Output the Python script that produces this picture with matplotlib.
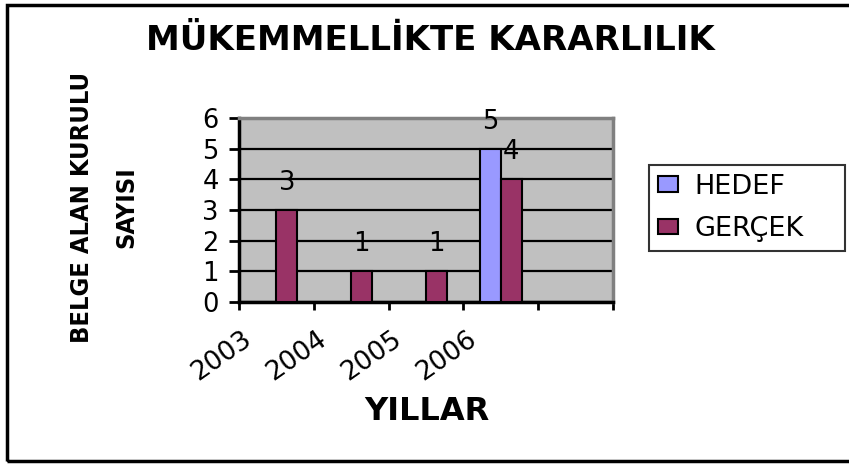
import matplotlib
matplotlib.use("Agg")
import matplotlib.pyplot as plt
import matplotlib.transforms as mtransforms
from matplotlib.patches import Rectangle
import numpy as np

# ---- data ----
categories = ["2003", "2004", "2005", "2006", ""]
hedef = [None, None, None, 5, None]
gercek = [3, 1, 1, 4, None]
series_names = ["HEDEF", "GERÇEK"]
title = "MÜKEMMELLİKTE KARARLILIK"
xlabel = "YILLAR"
ylabel = "BELGE ALAN KURULU\nSAYISI"
yticks = [0, 1, 2, 3, 4, 5, 6]

# ---- style ----
c_hedef = "#9999FF"
c_gercek = "#993366"
plt.rcParams["font.family"] = ["DejaVu Sans"]

W, H = 849, 466
fig = plt.figure(figsize=(W / 100, H / 100), dpi=100)
ax = fig.add_axes([239 / W, 1 - 302 / H, 374 / W, 184 / H])
ax.set_facecolor("#C0C0C0")

x = np.arange(len(categories))
bw = 0.28


def vals(v):
    return [np.nan if a is None else a for a in v]


hv = vals(hedef)
gv = vals(gercek)
b1 = ax.bar(x - bw / 2, hv, bw, color=c_hedef, edgecolor="black", linewidth=1.5,
            label=series_names[0], zorder=3)
b2 = ax.bar(x + bw / 2, gv, bw, color=c_gercek, edgecolor="black", linewidth=1.5,
            label=series_names[1], zorder=3)

for xs, vs in ((x - bw / 2, hv), (x + bw / 2, gv)):
    for xi, vi in zip(xs, vs):
        if not np.isnan(vi):
            ax.annotate(f"{int(vi)}", (xi, vi), xytext=(0, 19.5), textcoords="offset points",
                        ha="center", va="center", fontsize=18.5, color="black", zorder=5)

ax.set_xlim(-0.5, len(categories) - 0.5)
ax.set_ylim(0, 6)
ax.set_yticks(yticks)
ax.set_yticklabels([str(t) for t in yticks], fontsize=18.5)
ax.tick_params(axis="y", direction="out", length=7.5, width=2, pad=7)

ax.yaxis.grid(True, color="black", linewidth=1.6)
ax.set_axisbelow(True)

# category labels at centers, tick marks between categories
ax.set_xticks(x)
ax.set_xticklabels(categories, fontsize=19, rotation=35, ha="right", va="center",
                   rotation_mode="anchor")
ax.tick_params(axis="x", which="major", length=0, pad=25)
ax.set_xticks(np.arange(-0.5, len(categories), 1.0), minor=True)
ax.tick_params(axis="x", which="minor", direction="out", length=6, width=2)
off = mtransforms.ScaledTranslation(-27 / 100, 0, fig.dpi_scale_trans)
for lab in ax.get_xticklabels():
    lab.set_transform(lab.get_transform() + off)

for s in ("left", "bottom"):
    ax.spines[s].set_color("black")
    ax.spines[s].set_linewidth(2.5)
for s in ("top", "right"):
    ax.spines[s].set_color("#808080")
    ax.spines[s].set_linewidth(2.5)

ax.set_xlabel(xlabel, fontsize=23, fontweight="bold", va="center")
ax.xaxis.set_label_coords((427 - 239) / 374, (302 - 412) / 184)
ax.set_ylabel(ylabel, fontsize=18.3, fontweight="bold", va="center", ha="center",
              family=["DejaVu Sans"], fontstretch="condensed", linespacing=2.1,
              multialignment="center")
ax.yaxis.set_label_coords((104 - 239) / 374, (302 - 207) / 184)

fig.text(430 / W, 1 - 41 / H, title, fontsize=24.5, fontweight="bold", ha="center", va="center")

leg = ax.legend(handles=[b1, b2], loc="upper left",
                bbox_to_anchor=(649 / W, 1 - 165 / H, (845 - 649) / W, 0.0),
                bbox_transform=fig.transFigure, mode="expand", borderaxespad=0,
                fontsize=19.5, frameon=True, fancybox=False, edgecolor="black",
                handlelength=0.75, handleheight=0.5, handletextpad=0.6,
                borderpad=0.32, labelspacing=0.6)
leg.get_frame().set_linewidth(1.5)
leg.get_frame().set_facecolor("white")

fig.patches.append(Rectangle((7 / W, (H - 461) / H), 1.2, (461 - 5) / H,
                             transform=fig.transFigure, fill=False,
                             edgecolor="black", linewidth=2.5, zorder=10))

fig.savefig("out.png", dpi=100)
